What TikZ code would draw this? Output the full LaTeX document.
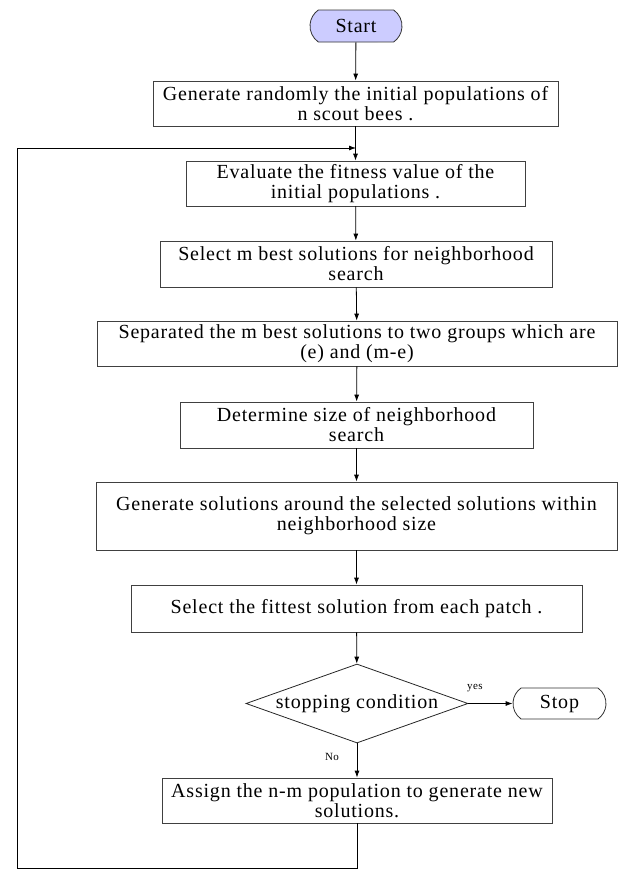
\documentclass[tikz,border=0pt]{standalone}
\usepackage{fontspec}
\setmainfont{Liberation Serif}[LetterSpace=4]
\usetikzlibrary{shapes.geometric,shapes.misc,arrows.meta}
\definecolor{startfill}{RGB}{204,204,255}
\tikzset{
  stepbox/.style={draw=black!75,line width=0.8pt,align=center,inner sep=0pt,
    font=\fontsize{20}{20}\selectfont},
  terminal/.style={rounded rectangle,rounded rectangle arc length=110,
    draw=black!80,line width=0.8pt,inner sep=0pt,font=\fontsize{20}{20}\selectfont},
  decision/.style={diamond,aspect=2.8,draw=black!85,line width=0.8pt,inner sep=0pt,
    font=\fontsize{20}{20}\selectfont},
  flow/.style={line width=0.8pt,-{Latex[length=7pt,width=5pt]}},
  tag/.style={font=\fontsize{11}{12}\selectfont,inner sep=0pt}
}
\begin{document}
\begin{tikzpicture}[x=1pt,y=-1pt]
\useasboundingbox (0,0) rectangle (618,870);

\node[terminal,fill=startfill,minimum width=92pt,minimum height=32pt] (start) at (356,26) {Start};
\node[stepbox,minimum width=405pt,minimum height=45pt] (gen) at (355.5,103.5)
  {Generate randomly the initial populations of\\n scout bees .};
\node[stepbox,minimum width=339pt,minimum height=45pt] (eval) at (355.5,183.5)
  {Evaluate the fitness value of the\\initial populations .};
\node[stepbox,minimum width=392pt,minimum height=46pt] (best) at (356,264)
  {Select m best solutions for neighborhood\\search};
\node[stepbox,minimum width=520pt,minimum height=45pt] (split) at (357,343.5)
  {Separated the m best solutions to two groups which are\\(e) and (m-e)};
\node[stepbox,minimum width=353pt,minimum height=46pt] (size) at (356.5,425)
  {Determine size of neighborhood\\search};
\node[stepbox,minimum width=521pt,minimum height=68pt] (around) at (356.5,516)
  {Generate solutions around the selected solutions within\\neighborhood size};
\node[stepbox,minimum width=451pt,minimum height=47pt] (fittest) at (356.5,608.5)
  {Select the fittest solution from each patch .};
\node[decision,minimum width=222pt,minimum height=79pt] (cond) at (357,703.5)
  {stopping condition};
\node[terminal,minimum width=93pt,minimum height=31pt] (stop) at (559.5,703.5) {Stop};
\node[stepbox,minimum width=390pt,minimum height=45pt] (assign) at (357,800.5)
  {Assign the n-m population to generate new\\solutions.};

\node[tag] (yes) at (475,688) {yes};
\node[tag] (no) at (332,757) {No};

\coordinate (c1) at (357,868);
\coordinate (c2) at (17,868);
\coordinate (c3) at (17,148);
\coordinate (c4) at (356,148);

\draw[flow] (start) -- (gen);
\draw[flow] (gen) -- (eval);
\draw[flow] (eval) -- (best);
\draw[flow] (best) -- (split);
\draw[flow] (split) -- (size);
\draw[flow] (size) -- (around);
\draw[flow] (around) -- (fittest);
\draw[flow] (fittest) -- (cond);
\draw[flow] (cond) -- (stop);
\draw[flow] (cond) -- (assign);
\draw[flow] (assign.south) -- (c1) -- (c2) -- (c3) -- (c4);
\end{tikzpicture}
\end{document}
